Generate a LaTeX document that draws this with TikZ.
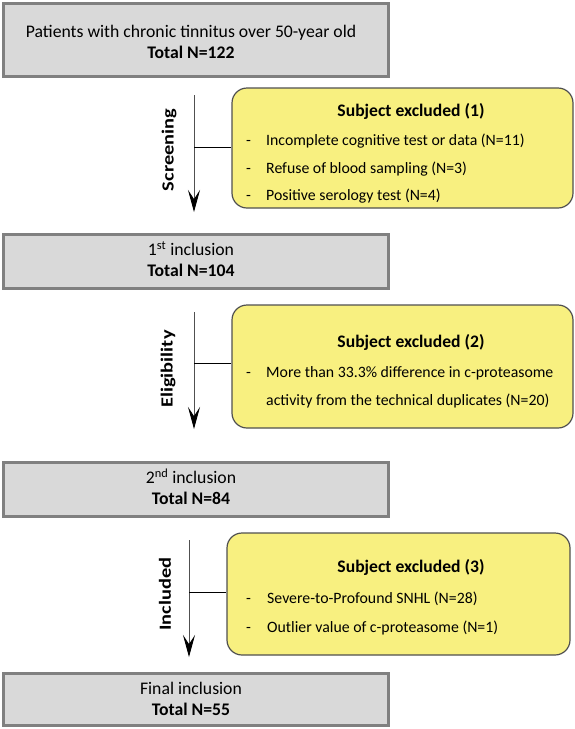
\documentclass[tikz,border=0pt]{standalone}
\usepackage{fontspec}
\setmainfont{Carlito}
\usetikzlibrary{arrows.meta}
\definecolor{grayfill}{RGB}{217,217,217}
\definecolor{grayline}{RGB}{128,128,128}
\definecolor{yellowfill}{RGB}{248,240,128}
\definecolor{yellowline}{RGB}{80,80,80}
\definecolor{arrowline}{RGB}{80,80,80}
\tikzset{
  graybox/.style={draw=grayline, line width=3pt, fill=grayfill, minimum width=385pt, inner sep=0pt},
  graytext/.style={font=\fontsize{17.7}{21}\selectfont, anchor=base, inner sep=0pt},
  yellowbox/.style={draw=yellowline, line width=1.2pt, fill=yellowfill, rounded corners=15pt, inner sep=0pt},
  title/.style={font=\fontsize{17.6}{20}\selectfont\bfseries, anchor=base, inner sep=0pt},
  item/.style={font=\fontsize{15.8}{18}\selectfont, anchor=base west, inner sep=0pt},
  flow/.style={draw=arrowline, line width=0.9pt, -{Stealth[length=22pt,width=12pt,inset=9pt,color=black]}},
  branch/.style={draw=black, line width=0.9pt},
  side/.style={font=\fontsize{17}{18}\selectfont\bfseries, rotate=90, inner sep=0pt}
}
\begin{document}
\begin{tikzpicture}[x=1pt,y=-1pt]
\useasboundingbox (0,0) rectangle (575,729);
% gray boxes
\node[graybox, minimum height=73pt] (g1) at (196,39.5) {};
\node[graytext] (g1a) at (191,37.5) {Patients with chronic tinnitus over 50-year old};
\node[graytext] (g1b) at (191,58.5) {\textbf{Total N=122}};
\node[graybox, minimum height=54pt] (g2) at (196,261) {};
\node[graytext] (g2a) at (191,255.5) {1\textsuperscript{st} inclusion};
\node[graytext] (g2b) at (191,276.5) {\textbf{Total N=104}};
\node[graybox, minimum height=54pt] (g3) at (196,489) {};
\node[graytext] (g3a) at (191,483.5) {2\textsuperscript{nd} inclusion};
\node[graytext] (g3b) at (191,504.5) {\textbf{Total N=84}};
\node[graybox, minimum height=52pt] (g4) at (196,699) {};
\node[graytext] (g4a) at (191,694.5) {Final inclusion};
\node[graytext] (g4b) at (191,715.5) {\textbf{Total N=55}};
% yellow boxes
\node[yellowbox, minimum width=341pt, minimum height=120pt] (y1) at (402.5,148) {};
\node[title] (y1t) at (411,116) {Subject excluded (1)};
\node[item] (y1d1) at (246,145) {-};
\node[item] (y1a) at (266,145) {Incomplete cognitive test or data (N=11)};
\node[item] (y1d2) at (246,173) {-};
\node[item] (y1b) at (266,173) {Refuse of blood sampling (N=3)};
\node[item] (y1d3) at (246,200) {-};
\node[item] (y1c) at (266,200) {Positive serology test (N=4)};

\node[yellowbox, minimum width=341pt, minimum height=123pt] (y2) at (402.5,366.5) {};
\node[title] (y2t) at (411,347) {Subject excluded (2)};
\node[item] (y2d1) at (246,377) {-};
\node[item] (y2a) at (266,377) {More than 33.3\% difference in c-proteasome};
\node[item] (y2b) at (266,405) {activity from the technical duplicates (N=20)};

\node[yellowbox, minimum width=343pt, minimum height=122pt] (y3) at (398.5,594) {};
\node[title] (y3t) at (411,572) {Subject excluded (3)};
\node[item] (y3d1) at (246,603) {-};
\node[item] (y3a) at (267,603) {Severe-to-Profound SNHL (N=28)};
\node[item] (y3d2) at (246,632) {-};
\node[item] (y3b) at (267,632) {Outlier value of c-proteasome (N=1)};

% arrows
\coordinate (a1s) at (194,95);
\coordinate (a1e) at (194,212);
\coordinate (b1) at (194,147);
\draw[flow] (a1s) -- (a1e);
\draw[branch] (b1) -- (y1.west |- b1);

\coordinate (a2s) at (194,312);
\coordinate (a2e) at (194,429);
\coordinate (b2) at (194,363);
\draw[flow] (a2s) -- (a2e);
\draw[branch] (b2) -- (y2.west |- b2);

\coordinate (a3s) at (189,540);
\coordinate (a3e) at (189,657);
\coordinate (b3) at (189,592);
\draw[flow] (a3s) -- (a3e);
\draw[branch] (b3) -- (y3.west |- b3);

% side labels
\node[side] (s1) at (169,150) {\scalebox{1.2}[1]{Screening}};
\node[side] (s2) at (168,369) {\scalebox{1.2}[1]{Eligibility}};
\node[side] (s3) at (165,594) {\scalebox{1.2}[1]{Included}};
\end{tikzpicture}
\end{document}
